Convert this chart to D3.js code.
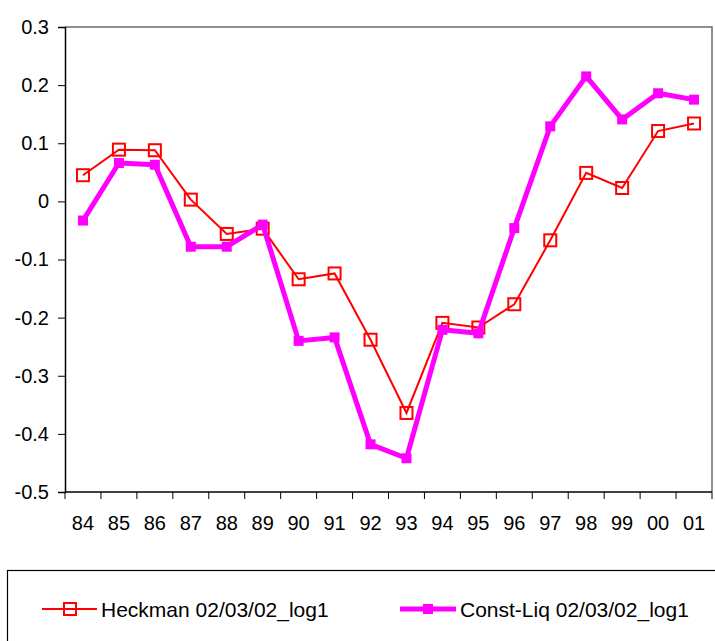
<!DOCTYPE html>
<html>
<head>
<meta charset="utf-8">
<script src="https://cdn.jsdelivr.net/npm/d3@7"></script>
<style>
  body { margin: 0; background: #fff; }
  svg { display: block; }
</style>
</head>
<body>
<svg id="viz"></svg>
<script>
const years = ["84", "85", "86", "87", "88", "89", "90", "91", "92", "93",
               "94", "95", "96", "97", "98", "99", "00", "01"];
const heckman = [0.045, 0.089, 0.088, 0.003, -0.056, -0.047, -0.134, -0.124, -0.238, -0.364,
                 -0.209, -0.217, -0.177, -0.067, 0.049, 0.023, 0.121, 0.134];
const constLiq = [-0.033, 0.066, 0.063, -0.078, -0.078, -0.040, -0.240, -0.234, -0.418, -0.442,
                  -0.221, -0.227, -0.046, 0.129, 0.215, 0.141, 0.186, 0.175];
const yTicks = [0.3, 0.2, 0.1, 0, -0.1, -0.2, -0.3, -0.4, -0.5];
const seriesNames = ["Heckman 02/03/02_log1", "Const-Liq 02/03/02_log1"];

const width = 715;
const height = 641;
const plotLeft = 65, plotRight = 712, plotTop = 27, plotBottom = 492;

const svg = d3.select("#viz")
  .attr("width", width)
  .attr("height", height)
  .style("font-family", "'Liberation Sans', Arial, sans-serif");

const x = d3.scaleBand().domain(years).range([plotLeft, plotRight]);
const y = d3.scaleLinear().domain([-0.5, 0.3]).range([plotBottom, plotTop]);

// --- plot area border (top and right, grey) ---
svg.append("path")
  .attr("d", `M${plotLeft},${plotTop}H${plotRight}V${plotBottom}`)
  .attr("fill", "none")
  .attr("stroke", "#6b6b6b")
  .attr("stroke-width", 1.5);

// --- y axis --- (plain hyphen for negatives, like Excel)
const yAxis = svg.append("g")
  .attr("transform", `translate(${plotLeft},0)`)
  .call(d3.axisLeft(y).tickValues(yTicks).tickSize(7).tickPadding(9)
    .tickFormat(d => d === 0 ? "0" : d.toFixed(1)));
yAxis.select(".domain").attr("stroke", "#000").attr("stroke-width", 1.5);
yAxis.selectAll(".tick line").attr("stroke", "#000");
yAxis.selectAll("text").attr("font-size", 20).attr("fill", "#000");

// --- x axis (ticks at category boundaries) ---
const xAxis = svg.append("g")
  .attr("transform", `translate(0,${plotBottom})`);
xAxis.append("line")
  .attr("x1", plotLeft).attr("x2", plotRight)
  .attr("stroke", "#000").attr("stroke-width", 1.5);
xAxis.selectAll(".bound")
  .data(years.concat(["end"]))
  .join("line")
  .attr("x1", (d, i) => i < years.length ? x(d) : plotRight)
  .attr("x2", (d, i) => i < years.length ? x(d) : plotRight)
  .attr("y1", 0).attr("y2", 7)
  .attr("stroke", "#000");
xAxis.selectAll(".lbl")
  .data(years)
  .join("text")
  .attr("x", d => x(d) + x.bandwidth() / 2)
  .attr("y", 38)
  .attr("text-anchor", "middle")
  .attr("font-size", 20)
  .text(d => d);

const cx = d => x(d) + x.bandwidth() / 2;

// --- Heckman series ---
const line = d3.line().x((d, i) => cx(years[i])).y(d => y(d));

svg.append("path")
  .datum(heckman)
  .attr("d", line)
  .attr("fill", "none")
  .attr("stroke", "#ff0000")
  .attr("stroke-width", 2);

svg.append("g")
  .selectAll("rect")
  .data(heckman)
  .join("rect")
  .attr("x", (d, i) => cx(years[i]) - 6)
  .attr("y", d => y(d) - 6)
  .attr("width", 12)
  .attr("height", 12)
  .attr("fill", "none")
  .attr("stroke", "#ff0000")
  .attr("stroke-width", 2);

// --- Const-Liq series ---
svg.append("path")
  .datum(constLiq)
  .attr("d", line)
  .attr("fill", "none")
  .attr("stroke", "#ff00ff")
  .attr("stroke-width", 5)
  .attr("stroke-linejoin", "round");

svg.append("g")
  .selectAll("rect")
  .data(constLiq)
  .join("rect")
  .attr("x", (d, i) => cx(years[i]) - 5)
  .attr("y", d => y(d) - 5)
  .attr("width", 10)
  .attr("height", 10)
  .attr("fill", "#ff00ff");

// --- Legend ---
svg.append("rect")
  .attr("x", 7.5).attr("y", 570.5)
  .attr("width", 720).attr("height", 100)
  .attr("fill", "none")
  .attr("stroke", "#000")
  .attr("stroke-width", 1.2);

const legY = 609;
const leg = svg.append("g");
// Heckman entry
leg.append("line")
  .attr("x1", 42).attr("x2", 97).attr("y1", legY).attr("y2", legY)
  .attr("stroke", "#ff0000").attr("stroke-width", 2);
leg.append("rect")
  .attr("x", 64).attr("y", legY - 6).attr("width", 12).attr("height", 12)
  .attr("fill", "none").attr("stroke", "#ff0000").attr("stroke-width", 2);
leg.append("text")
  .attr("x", 101).attr("y", legY + 8)
  .attr("font-size", 21)
  .text(seriesNames[0]);
// Const-Liq entry
leg.append("line")
  .attr("x1", 400).attr("x2", 456).attr("y1", legY).attr("y2", legY)
  .attr("stroke", "#ff00ff").attr("stroke-width", 5);
leg.append("rect")
  .attr("x", 423).attr("y", legY - 5).attr("width", 10).attr("height", 10)
  .attr("fill", "#ff00ff");
leg.append("text")
  .attr("x", 460).attr("y", legY + 8)
  .attr("font-size", 21)
  .text(seriesNames[1]);
</script>
</body>
</html>
